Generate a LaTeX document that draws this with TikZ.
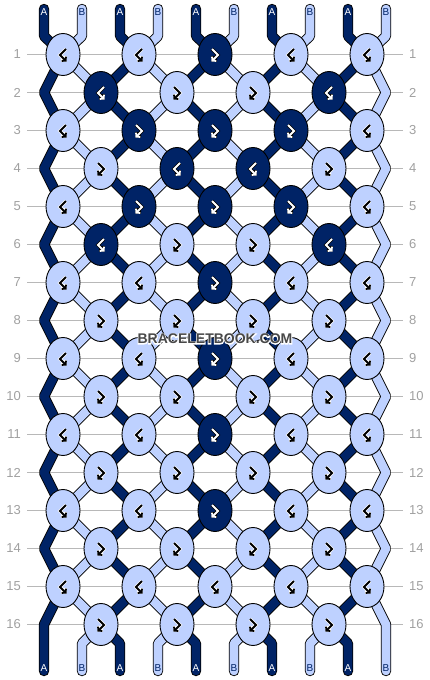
\documentclass[tikz,border=0pt]{standalone}
\usepackage{fontspec}
\setmainfont{Liberation Sans}
\newfontface\halofont{Liberation Sans Bold}[FakeBold=12]
\usetikzlibrary{shapes.geometric,arrows.meta}
\pgfdeclarelayer{background}
\pgfsetlayers{background,main}
\definecolor{bbdark}{RGB}{0,35,102}
\definecolor{bblight}{RGB}{190,209,255}
\definecolor{rowgray}{RGB}{160,160,160}
\definecolor{markgray}{RGB}{72,72,72}
\tikzset{
  knot/.style={ellipse, draw=black, line width=0.9pt, fill=#1,
    minimum width=34pt, minimum height=42pt, inner sep=0pt},
  thread/.style={draw=black, double=#1, double distance=8.6pt,
    line width=0.9pt, line cap=round, line join=bevel},
  rowline/.style={rowgray!75, line width=0.8pt},
  rownum/.style={text=rowgray, inner sep=0pt, font=\fontsize{13}{13}\selectfont},
  endlabel/.style={inner sep=0pt, font=\fontsize{10}{10}\selectfont},
  knotmark/.style={line width=1.8pt, -{Straight Barb[length=2.6pt,width=6pt]}},
  wmark/.style={inner sep=0pt, font=\fontsize{14}{14}\selectfont\bfseries},
}
\begin{document}
\begin{tikzpicture}[x=1pt,y=-1pt]
  \useasboundingbox (0,0) rectangle (430,680);
  % knots, row by row (1 = forward-backward, 0 = backward-forward)
  \foreach \r/\pat in {1/{0,0,1,0,0},2/{0,1,1,0},3/{0,1,1,1,0},4/{1,0,0,1},
      5/{0,1,1,1,0},6/{0,1,1,0},7/{0,0,1,0,0},8/{1,1,1,1},9/{0,0,1,0,0},
      10/{1,1,1,1},11/{0,0,1,0,0},12/{1,1,1,1},13/{0,0,1,0,0},14/{1,1,1,1},
      15/{0,0,0,0,0},16/{1,1,1,1}}{
    \pgfmathsetmacro\ky{54.5+38*(\r-1)}
    \pgfmathtruncatemacro\odd{mod(\r,2)}
    \node[rownum, anchor=east] (rl-\r) at (21,\ky) {\r};
    \node[rownum, anchor=west] (rr-\r) at (409,\ky) {\r};
    \foreach \t [count=\k from 0] in \pat {
      \pgfmathsetmacro\kx{\odd==1 ? 63+76*\k : 101+76*\k}
      \pgfmathtruncatemacro\dark{mod(\r+\t,2)==0}
      \pgfmathtruncatemacro\m{1-2*\t}
      \ifnum\dark=1
        \def\kfill{bbdark}\def\kmark{white}\def\khalo{black}
      \else
        \def\kfill{bblight}\def\kmark{black}\def\khalo{white}
      \fi
      \node[knot=\kfill] (kn-\r-\k) at (\kx,\ky) {};
      \begin{scope}[shift={(kn-\r-\k.center)}, xscale=\m]
        \draw[knotmark, \khalo, line width=3.4pt] (3,-5.5) -- (-3,0.5) -- (3.5,7);
        \draw[knotmark, \kmark] (3,-5.5) -- (-3,0.5) -- (3.5,7);
      \end{scope}
    }
  }
  % where each thread passes in each row
  \foreach \r in {1,...,16}{
    \pgfmathsetmacro\ry{54.5+38*(\r-1)}
    \foreach \i in {0,...,9}{
      \pgfmathtruncatemacro\ko{floor(\i/2)}
      \pgfmathtruncatemacro\ke{floor((\i-1)/2)}
      \ifodd\r\relax
        \coordinate (s-\i-\r) at (kn-\r-\ko.center);
      \else\ifnum\i=0
        \coordinate (s-\i-\r) at (44,\ry);
      \else\ifnum\i=9
        \coordinate (s-\i-\r) at (386,\ry);
      \else
        \coordinate (s-\i-\r) at (kn-\r-\ke.center);
      \fi\fi\fi
    }
  }
  \foreach \i in {0,...,9}{
    \pgfmathsetmacro\sx{44+38*\i}
    \coordinate (top-\i)  at (\sx,9);
    \coordinate (bend-\i) at (\sx,36);
    \coordinate (foot-\i) at (\sx,643.5);
    \coordinate (end-\i)  at (\sx,671);
    \ifodd\i\relax
      \node[endlabel, text=bbdark] (la-\i) at (\sx,12.5) {B};
      \node[endlabel, text=bbdark] (lb-\i) at (\sx,668) {B};
    \else
      \node[endlabel, text=white] (la-\i) at (\sx,12.5) {A};
      \node[endlabel, text=white] (lb-\i) at (\sx,668) {A};
    \fi
  }
  \begin{pgfonlayer}{background}
    \foreach \r in {1,...,16}
      \draw[rowline] ([xshift=6pt]rl-\r.east) -- ([xshift=-6pt]rr-\r.west);
    \foreach \i in {0,...,9}{
      \ifodd\i\relax \def\scol{bblight}\else \def\scol{bbdark}\fi
      \draw[thread=\scol] (top-\i) -- (bend-\i)
        \foreach \r in {1,...,16}{ -- (s-\i-\r) } -- (foot-\i) -- (end-\i);
    }
  \end{pgfonlayer}
  % watermark with a white halo
  \node[wmark, text=white, font=\fontsize{14}{14}\halofont] (wm-halo) at (215,339) {BRACELETBOOK.COM};
  \node[wmark, text=markgray] (wm) at (215,339) {BRACELETBOOK.COM};
\end{tikzpicture}
\end{document}
